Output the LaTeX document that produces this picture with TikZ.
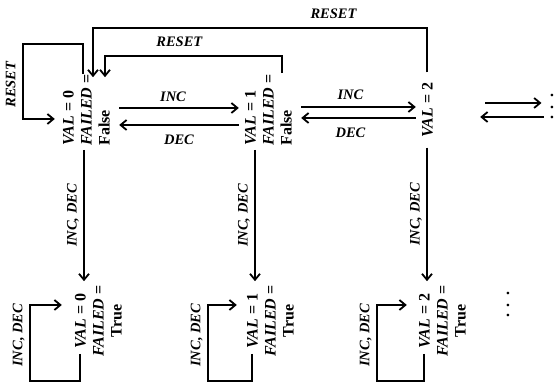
\documentclass[tikz,border=0pt]{standalone}
\usepackage{fontspec}
\setmainfont{Liberation Serif}
\usepackage{graphicx}
\usetikzlibrary{arrows.meta,positioning}

\newcommand\vtext[2][l]{\rotatebox{90}{\begin{tabular}{@{}#1@{}}#2\end{tabular}}}

\begin{document}
\begin{tikzpicture}[
  x=1pt,y=1pt,
  valstate/.style={on grid,inner sep=4pt,font=\fontsize{16}{18}\selectfont\bfseries},
  signal/.style={font=\fontsize{14.5}{16}\selectfont\bfseries\itshape},
  transit/.style={line width=1.8pt,-{Straight Barb[length=6pt,width=10pt]}}
]
  \useasboundingbox (0,0) rectangle (558,385);

  \node[valstate] (s0) at (88,275) {\vtext{\textit{VAL} = 0\\ \textit{FAILED} =\\ False}};
  \node[valstate,right=182pt of s0] (s1) {\vtext{\textit{VAL} = 1\\ \textit{FAILED} =\\ False}};
  \node[valstate,right=159pt of s1] (s2) {\vtext{\textit{VAL} = 2}};
  \node[valstate,above right=3pt and 123pt of s2] (topdots) {\rotatebox{90}{.\hspace{7pt}.\hspace{7pt}.}};

  \node[valstate,below right=211pt and 12pt of s0] (b0) {\vtext[c]{\textit{VAL} = 0\\ \textit{FAILED} =\\ True}};
  \node[valstate,below right=211pt and 2pt of s1] (b1) {\vtext[c]{\textit{VAL} = 1\\ \textit{FAILED} =\\ True}};
  \node[valstate,below right=211pt and 15pt of s2] (b2) {\vtext[c]{\textit{VAL} = 2\\ \textit{FAILED} =\\ True}};
  \node[valstate,above right=16pt and 64pt of b2] (botdots) {\rotatebox{90}{.\hspace{7pt}.\hspace{7pt}.}};

  \draw[transit] ([yshift=2pt]s0.east) -- node[signal,pos=.45,above=2pt]{INC} ([yshift=2pt]s1.west);
  \draw[transit] ([yshift=-15pt]s1.west) -- node[signal,below=6pt]{DEC} ([yshift=-15pt]s0.east);
  \draw[transit] ([yshift=3pt]s1.east) -- node[signal,pos=.43,above=3pt]{INC} ([yshift=3pt]s2.west);
  \draw[transit] ([yshift=-8pt]s2.west) -- node[signal,pos=.57,below=6pt]{DEC} ([yshift=-8pt]s1.east);
  \draw[transit,shorten <=43pt,shorten >=5pt] ([yshift=7pt]s2.east) -- ([yshift=7pt]s2.east -| topdots.west);
  \draw[transit,shorten <=3pt,shorten >=38pt] ([yshift=-7pt]s2.east -| topdots.west) -- ([yshift=-7pt]s2.east);

  \draw[transit] ([xshift=-4pt]s0.south) -- node[signal,left=1pt]{\rotatebox{90}{INC, DEC}} ([xshift=-4pt]s0.south |- b0.north);
  \draw[transit] ([xshift=-15pt]s1.south) -- node[signal,left=1pt]{\rotatebox{90}{INC, DEC}} ([xshift=-15pt]s1.south |- b1.north);
  \draw[transit] ([xshift=-2pt,yshift=-6pt]s2.south) -- node[signal,left=1pt]{\rotatebox{90}{INC, DEC}} ([xshift=-2pt]s2.south |- b2.north);

  \draw[transit] ([xshift=-20pt,yshift=7pt]b0.south) -- ++(0,-27pt) -| node[signal,pos=.8,left=1pt]{\rotatebox{90}{INC, DEC}} ([xshift=-39pt,yshift=16pt]b0.west) -- ([xshift=-7pt,yshift=16pt]b0.west);
  \draw[transit] ([xshift=-20pt,yshift=7pt]b1.south) -- ++(0,-27pt) -| node[signal,pos=.8,left=1pt]{\rotatebox{90}{INC, DEC}} ([xshift=-33pt,yshift=16pt]b1.west) -- ([xshift=-4pt,yshift=16pt]b1.west);
  \draw[transit] ([xshift=-20pt,yshift=7pt]b2.south) -- ++(0,-27pt) -| node[signal,pos=.8,left=1pt]{\rotatebox{90}{INC, DEC}} ([xshift=-36pt,yshift=16pt]b2.west) -- ([xshift=-6pt,yshift=16pt]b2.west);

  \draw[transit] ([xshift=-5pt,yshift=-4pt]s0.north) -- ++(0,30pt) -| node[signal,pos=.77,left=3pt]{\rotatebox{90}{RESET}} ([xshift=-34pt,yshift=-9pt]s0.west) -- ([xshift=-2pt,yshift=-9pt]s0.west);
  \draw[transit] ([xshift=12pt,yshift=-3pt]s1.north) -- ++(0,17pt) -| node[signal,pos=.29,above=5pt]{RESET} ([xshift=17pt,yshift=-7pt]s0.north);
  \draw[transit] ([xshift=-2pt,yshift=6pt]s2.north) -- ++(0,44pt) -| node[signal,pos=.14,above=5pt]{RESET} ([xshift=5pt,yshift=-7pt]s0.north);
\end{tikzpicture}
\end{document}
